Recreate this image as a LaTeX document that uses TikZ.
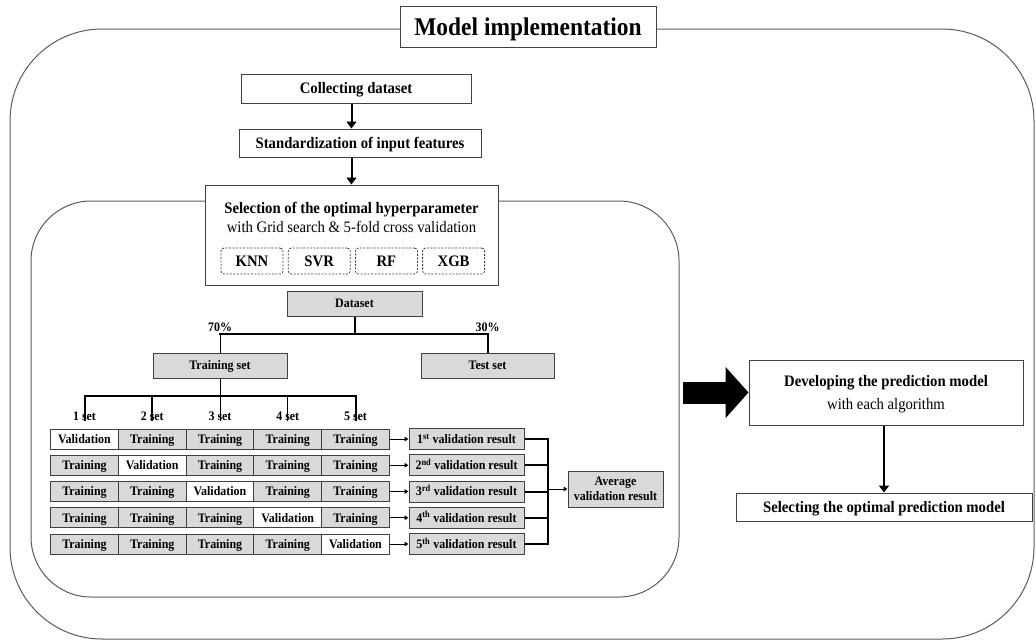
\documentclass[tikz,border=0pt]{standalone}
\usepackage{fontspec}
\setmainfont{Liberation Serif}[FakeStretch=0.92]
\usepackage{tikz}
\usetikzlibrary{arrows.meta, positioning}
\definecolor{cellgray}{RGB}{217,217,217}
\definecolor{edgegray}{RGB}{64,64,64}
\definecolor{framegray}{RGB}{90,90,90}
\newcommand{\txtbig}{\fontsize{25.5}{28}\selectfont}
\newcommand{\txtmid}{\fontsize{16}{19}\selectfont}
\newcommand{\txtsml}{\fontsize{13}{15}\selectfont}

\begin{document}
\begin{tikzpicture}[x=1pt,y=-1pt,
    frame/.style={rectangle,draw=framegray,line width=1pt},
    oneline/.style={text height=#1,text depth=0pt},
    oneline/.default=8.8pt,
    plainbox/.style={rectangle,draw=edgegray,fill=white,line width=1pt,inner sep=0pt,font=\txtmid\bfseries},
    graybox/.style={rectangle,draw=edgegray,fill=cellgray,line width=1pt,inner sep=0pt,font=\txtsml\bfseries},
    cell/.style={graybox,oneline,minimum width=67.75pt,minimum height=20pt},
    valcell/.style={cell,fill=white},
    resbox/.style={graybox,oneline,minimum width=115pt,minimum height=21pt},
    algbox/.style={rectangle,draw=edgegray,line width=0.8pt,dash pattern=on 2pt off 1.5pt,rounded corners=3pt,minimum width=62pt,minimum height=26pt,inner sep=0pt,oneline=10.8pt,font=\txtmid\bfseries},
    setlabel/.style={inner sep=0pt,font=\txtsml\bfseries},
    thickline/.style={line width=2pt},
    tline/.style={line width=1pt},
    arr/.style={line width=2pt,-{Triangle[length=7pt,width=10pt]}},
    smallarr/.style={line width=1pt,-{Triangle[length=4pt,width=4.5pt]}}]
    \useasboundingbox (0,0) rectangle (1036,641);

    % Frames
    \node[frame,minimum width=1024pt,minimum height=610pt,rounded corners=92pt] (outer) at (522,334) {};
    \node[frame,minimum width=648pt,minimum height=396pt,rounded corners=60pt] (inner) at (355,399) {};
    \node[plainbox,oneline=17pt,minimum width=256pt,minimum height=41pt,font=\txtbig\bfseries] (title) at (528,26.5) {Model implementation};

    % Preparation
    \node[plainbox,oneline=10.8pt,minimum width=230pt,minimum height=29pt] (collect) at (356,88.5) {Collecting dataset};
    \node[plainbox,oneline=10.8pt,minimum width=242pt,minimum height=28pt] (stand) at (360,143) {Standardization of input features};
    \node[plainbox,minimum width=293pt,minimum height=100pt] (select) at (351.5,235) {};
    \node[font=\txtmid,align=center,inner sep=0pt] (selecttext) at (351.5,217) {\textbf{Selection of the optimal hyperparameter}\\with Grid search \& 5-fold cross validation};
    \foreach \alg [count=\i] in {KNN,SVR,RF,XGB}
        \node[algbox] (alg\i) at ({252+67.2*(\i-1)},261) {\alg};
    \draw[arr] (collect.south -| select) -- (stand.north -| select);
    \draw[arr] (stand.south -| select) -- (select.north);

    % Data split
    \node[graybox,oneline,minimum width=135pt,minimum height=25pt] (dataset) at (354.5,303.5) {Dataset};
    \node[graybox,oneline,minimum width=134pt,minimum height=25pt] (train) at (220,365.5) {Training set};
    \node[graybox,oneline,minimum width=133pt,minimum height=25pt] (test) at (487.5,365.5) {Test set};
    \coordinate (split) at (354.5,334);
    \draw[thickline] (dataset) -- (split);
    \draw[thickline,line cap=rect] (train |- split) -- (test |- split);
    \draw[tline] (train |- split) -- (train);
    \draw[thickline] (test |- split) -- (test);
    \node[setlabel,above=2pt] (pct70) at (train |- split) {70\%};
    \node[setlabel,above=2pt] (pct30) at (test |- split) {30\%};

    % 5-fold
    \coordinate (fold) at (220,396);
    \foreach \c in {1,...,5}
        \node[setlabel] (set\c) at ({84.5+67.75*(\c-1)},416) {\c\ set};
    \draw[tline] (train) -- (fold);
    \draw[thickline,line cap=rect] (set1 |- fold) -- (set5 |- fold);
    \foreach \c/\w in {1/2,2/2,3/1,4/1,5/2}
        \draw[line width=\w pt] (set\c |- fold) -- (set\c.south);

    \foreach \r in {1,...,5}{
        \foreach \c in {1,...,5}{
            \ifnum\r=\c\relax
                \node[valcell] (cell-\r-\c) at ({84.5+67.75*(\c-1)},{439+26.25*(\r-1)}) {Validation};
            \else
                \node[cell] (cell-\r-\c) at ({84.5+67.75*(\c-1)},{439+26.25*(\r-1)}) {Training};
            \fi
        }
    }

    % Results
    \coordinate (join) at (548,439);
    \foreach \r/\suf in {1/st,2/nd,3/rd,4/th,5/th}{
        \node[resbox] (res\r) at (466.5,{439+26.25*(\r-1)}) {\r\textsuperscript{\suf} validation result};
        \draw[smallarr] (cell-\r-5) -- (res\r);
        \draw[thickline] (res\r.east) -- (res\r.east -| join);
    }
    \draw[thickline,line cap=rect] (res1.east -| join) -- (res5.east -| join);
    \node[graybox,minimum width=95pt,minimum height=36pt,align=center,text depth=0pt] (avg) at (615.5,489) {Average\\validation result};
    \draw[smallarr] (avg.west -| join) -- (avg);

    % Final model
    \node[plainbox,minimum width=274pt,minimum height=65pt,align=center,text depth=0pt,font=\txtmid] (develop) at (886,392.5) {\textbf{Developing the prediction model}\\[4pt]with each algorithm};
    \node[plainbox,oneline=10.8pt,minimum width=296pt,minimum height=28pt] (best) at (884,507) {Selecting the optimal prediction model};
    \draw[arr] (develop.south -| best) -- (best.north);
    \coordinate (bigstart) at (683,392.5);
    \draw[line width=22pt,-{Triangle[length=23pt,width=50pt]}] (bigstart) -- (develop.west);
\end{tikzpicture}
\end{document}
